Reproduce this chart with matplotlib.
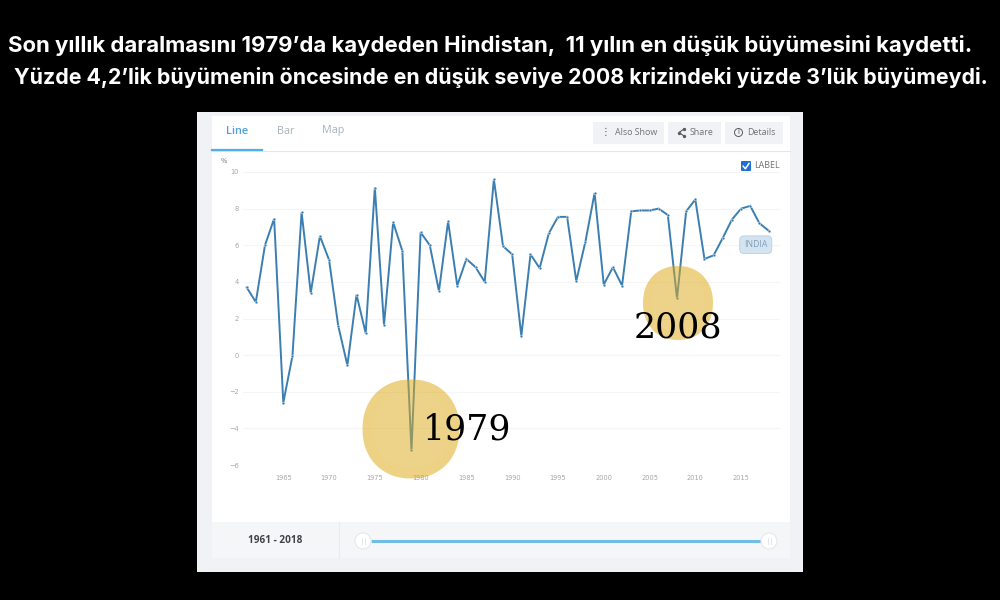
import numpy as np
import matplotlib
matplotlib.use("Agg")
import matplotlib.pyplot as plt
from matplotlib.patches import Rectangle, Circle, FancyBboxPatch, Polygon

years = list(range(1961, 2019))
growth = [3.7, 2.9, 6.0, 7.45, -2.6, -0.05, 7.8, 3.4, 6.5, 5.2,
          1.6, -0.55, 3.3, 1.2, 9.15, 1.65, 7.25, 5.7, -5.2, 6.7,
          6.0, 3.5, 7.3, 3.8, 5.25, 4.8, 4.0, 9.6, 5.95, 5.5,
          1.05, 5.5, 4.75, 6.65, 7.55, 7.55, 4.05, 6.2, 8.85, 3.85,
          4.8, 3.8, 7.85, 7.9, 7.9, 8.0, 7.65, 3.1, 7.85, 8.5,
          5.25, 5.45, 6.4, 7.4, 8.0, 8.15, 7.2, 6.8]
xticks = list(range(1965, 2016, 5))
yticks = [-6, -4, -2, 0, 2, 4, 6, 8, 10]
title1 = "Son yıllık daralmasını 1979’da kaydeden Hindistan,  11 yılın en düşük büyümesini kaydetti."
title2 = "Yüzde 4,2’lik büyümenin öncesinde en düşük seviye 2008 krizindeki yüzde 3’lük büyümeydi."
tabs = ["Line", "Bar", "Map"]
buttons = ["Also Show", "Share", "Details"]
range_label = "1961 - 2018"
series_label = "INDIA"

W, H = 1000, 600
fig = plt.figure(figsize=(W/100, H/100), dpi=100, facecolor="black")

bg = fig.add_axes([0, 0, 1, 1], zorder=0)
bg.set_xlim(0, W); bg.set_ylim(H, 0); bg.axis("off")

def rect(a, x0, y0, x1, y1, c, **k):
    a.add_patch(Rectangle((x0, y0), x1-x0, y1-y0, fc=c, ec="none", **k))

rect(bg, 197, 112, 803, 572, "#f1f2f6")
rect(bg, 212, 116, 790, 522, "white")
rect(bg, 212, 522, 790, 558, "#f5f6f8")
bg.plot([212, 790], [150.5, 150.5], color="#e4e6ea", lw=0.8)
bg.plot([339, 339], [522, 558], color="#e9ebef", lw=0.8)
bg.plot([212, 262], [149.5, 149.5], color="#4fb0e5", lw=1.6)

tab_x = [237, 285.5, 333.5]
tab_c = ["#4f9fd8", "#a9b3b8", "#a9b3b8"]
for t, x, c in zip(tabs, tab_x, tab_c):
    bg.text(x, 131, t, ha="center", va="center", fontsize=7.8, color=c,
            family="Open Sans", weight="semibold" if t == "Line" else "normal")

for (x0, x1), t, tx in zip([(593, 664), (668, 721), (725, 783)], buttons, [636.5, 702, 761.5]):
    rect(bg, x0, 122, x1, 144, "#f1f2f5")
    bg.text(tx, 132.5, t, ha="center", va="center", fontsize=6.4, color="#6d7378", family="Open Sans")
bg.text(605.5, 132.5, "⋮", ha="center", va="center", fontsize=7, color="#555b60", family="DejaVu Sans")
bg.plot([684, 679, 684], [129, 132.5, 136], color="#555b60", lw=0.8, marker="o", ms=1.4)
bg.add_patch(Circle((738.5, 132.5), 4, fc="none", ec="#555b60", lw=0.7))
bg.text(738.5, 132.5, "i", ha="center", va="center", fontsize=5, color="#555b60")

bg.add_patch(FancyBboxPatch((741, 161), 10, 10, boxstyle="round,pad=0,rounding_size=1", fc="#1f6fd0", ec="none"))
bg.plot([743.2, 745.4, 749], [166.2, 168.8, 163.4], color="white", lw=1.1)
bg.text(754.5, 166, "LABEL", ha="left", va="center", fontsize=6.4, color="#6d7378", family="Open Sans")
bg.text(221, 161, "%", ha="left", va="center", fontsize=4.8, color="#777777")

x0, x1, y0, y1 = 243, 780, 172, 465
ax = fig.add_axes([x0/W, 1-y1/H, (x1-x0)/W, (y1-y0)/H], zorder=1)
ax.set_facecolor("none")
ax.set_xlim(1960.6, 2019.25)
ax.set_ylim(-6, 10)
for s in ax.spines.values():
    s.set_visible(False)
ax.set_yticks(yticks)
ax.set_xticks(xticks)
ax.tick_params(axis="y", length=0, pad=3, labelsize=4.8, labelcolor="#a6a6a6")
ax.tick_params(axis="x", length=0, pad=7, labelsize=4.8, labelcolor="#a6a6a6")
ax.grid(axis="y", color="#f5f5f5", lw=0.8)
ax.set_axisbelow(True)
ax.plot(years, growth, color="#3b7fb2", lw=1.4, solid_joinstyle="miter",
        marker="o", ms=2.0, mfc="#2f76ad", mec="white", mew=0.3)
ax.text(2016.6, 6.03, series_label, ha="center", va="center", fontsize=6.2, color="#7f9fb8",
        family="Open Sans",
        bbox=dict(boxstyle="round,pad=0.5", fc="#d3e3f1", ec="#b6cfe4", lw=0.6))

ov = fig.add_axes([0, 0, 1, 1], zorder=2)
ov.set_xlim(0, W); ov.set_ylim(H, 0); ov.axis("off"); ov.patch.set_alpha(0)

def blob(cx, cy, w, h, c, alpha, n=2.15):
    t = np.linspace(0, 2*np.pi, 120)
    xs = cx + w/2*np.sign(np.cos(t))*np.abs(np.cos(t))**(2/n)
    ys = cy + h/2*np.sign(np.sin(t))*np.abs(np.sin(t))**(2/n)
    ov.add_patch(Polygon(np.column_stack([xs, ys]), fc=c, ec="none", alpha=alpha))

for cx, cy, w, h in [(411, 429, 97, 99), (678, 303, 70, 74)]:
    blob(cx, cy, w, h, "#dda70f", 0.5)
    blob(cx, cy, w*0.78, h*0.78, "#ffffff", 0.035)
ov.text(467.5, 429, "1979", ha="center", va="center", fontsize=25, color="black", family="DejaVu Serif")
ov.text(677.5, 328, "2008", ha="center", va="center", fontsize=25, color="black", family="DejaVu Serif")

ov.text(275.5, 540.5, range_label, ha="center", va="center", fontsize=7.2, color="#3f4347",
        family="Open Sans", weight="bold")
ov.plot([371, 761], [541, 541], color="#72bde6", lw=2.2, solid_capstyle="butt")
for cx in [363, 769]:
    ov.add_patch(Circle((cx, 541), 8, fc="white", ec="#e6e8ec", lw=0.8, zorder=4))
    ov.plot([cx-1.5, cx-1.5], [538, 544], color="#d8dade", lw=0.5, zorder=5)
    ov.plot([cx+1.5, cx+1.5], [538, 544], color="#d8dade", lw=0.5, zorder=5)

ov.text(8, 45, title1, ha="left", va="center", fontsize=15.95, color="white", family="Inter", weight="bold")
ov.text(14, 78, title2, ha="left", va="center", fontsize=15.35, color="white", family="Inter", weight="bold")

fig.savefig("out.png", dpi=100, facecolor="black")
